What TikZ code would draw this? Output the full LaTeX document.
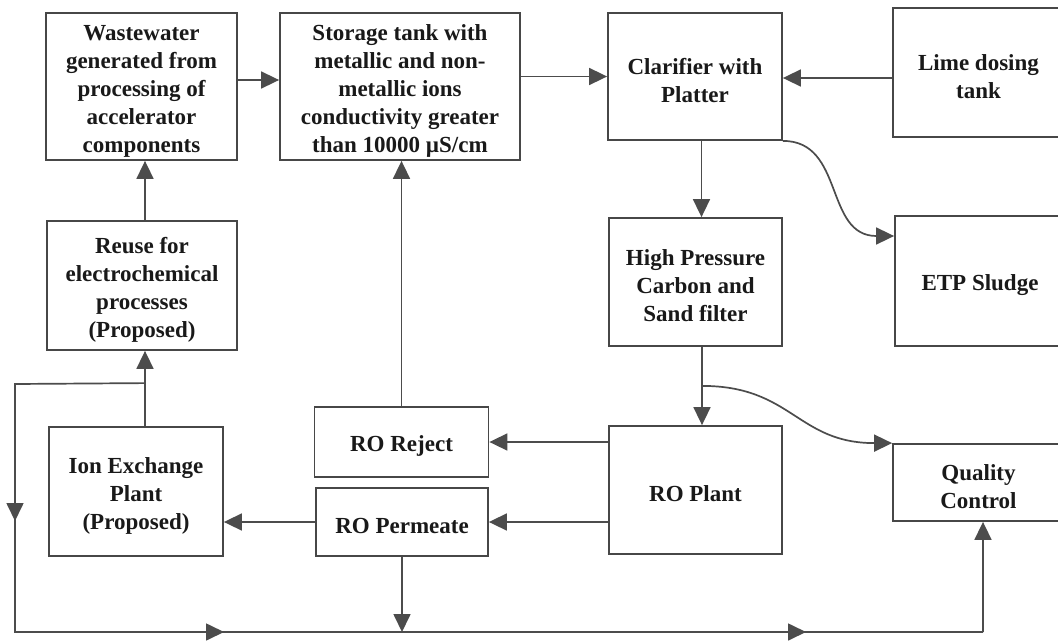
\documentclass[tikz,border=0pt]{standalone}
\usepackage{fontspec}
\setmainfont{Liberation Serif}
\usetikzlibrary{arrows.meta}
\newcommand{\lowr}{\rule{0pt}{24pt}}
\tikzset{
  box/.style={draw=black!72, line width=1.8pt, fill=white, align=center, inner sep=2pt,
    font=\fontsize{23}{28}\selectfont\bfseries, text=black!90},
  conn/.style={draw=black!70, line width=1.7pt},
  arr/.style={conn, -{Triangle[length=18pt,width=17pt]}},
}
\begin{document}
\begin{tikzpicture}[x=1pt,y=-1pt]
\useasboundingbox (0,0) rectangle (1058,643);
\clip (0,0) rectangle (1058,643);
\fill[white] (0,0) rectangle (1058,643);
% nodes
\node[box, minimum width=191, minimum height=147] (ww) at (141.5,86.5)
  {\lowr Wastewater\\generated from\\processing of\\accelerator\\components};
\node[box, minimum width=240, minimum height=147] (st) at (400,86.5)
  {\lowr Storage tank with\\metallic and non-\\metallic ions\\conductivity greater\\than 10000 µS/cm};
\node[box, minimum width=174, minimum height=127] (clar) at (695,76.5)
  {\lowr Clarifier with\\Platter};
\node[box, minimum width=171, minimum height=129] (lime) at (978.5,72.5)
  {\lowr Lime dosing\\tank};
\node[box, minimum width=173, minimum height=128] (hp) at (695.5,282)
  {\lowr High Pressure\\Carbon and\\Sand filter};
\node[box, minimum width=170, minimum height=130] (etp) at (980,281)
  {\lowr ETP Sludge};
\node[box, minimum width=190, minimum height=129] (reuse) at (142,285.5)
  {\lowr Reuse for\\electrochemical\\processes\\(Proposed)};
\node[box, minimum width=174, minimum height=129] (ion) at (136,491.5)
  {\lowr Ion Exchange\\Plant\\(Proposed)};
\node[box, minimum width=174, minimum height=70] (reject) at (401.5,442)
  {\lowr RO Reject};
\node[box, minimum width=172, minimum height=68] (perm) at (402,522)
  {\lowr RO Permeate};
\node[box, minimum width=173, minimum height=128] (ro) at (695.5,490)
  {\lowr RO Plant};
\node[box, minimum width=171, minimum height=77] (qc) at (978.5,482.5)
  {\lowr Quality\\Control};
% helper coordinates
\coordinate (wwo) at ([yshift=6.5pt]ww.east);
\coordinate (lm) at ([yshift=-5.5pt]lime.west);
\coordinate (cs) at ([xshift=6.5pt]clar.south);
\coordinate (hs) at ([xshift=6.5pt]hp.south);
\coordinate (bj) at ([xshift=6.5pt,yshift=-39pt]hp.south);
\coordinate (etpin) at ([yshift=45pt]etp.west);
\coordinate (ix) at ([xshift=9pt]ion.north);
\coordinate (j) at ([yshift=43pt]ix);
\coordinate (rn) at ([xshift=3pt]reuse.north);
\coordinate (lt) at (15,384);
\coordinate (ma) at (15,521);
\coordinate (lb) at (15,632);
\coordinate (mb) at (224,632);
\coordinate (mc) at (806,632);
\coordinate (rb) at (983,632);
% connectors
\draw[arr] (wwo) -- (wwo -| st.west);
\draw[arr] (st.east |- clar.west) -- (clar.west);
\draw[arr] (lm) -- (lm -| clar.east);
\draw[arr] (cs) -- (cs |- hp.north);
\draw[arr] (clar.south east) .. controls +(62,0) and +(-70,0) .. (etpin);
\draw[arr] (hs) -- (hs |- ro.north);
\draw[arr] (bj) .. controls +(90,0) and +(-95,0) .. (qc.north west);
\draw[arr] (ro.west |- reject.east) -- (reject.east);
\draw[arr] (ro.west |- perm.east) -- (perm.east);
\draw[arr] (perm.west) -- (perm.west -| ion.east);
\draw[arr] (reject.north) -- (reject.north |- st.south);
\draw[arr] (perm.south) -- (perm.south |- lb);
\draw[arr] (ix) -- (ix |- reuse.south);
\draw[arr] (rn) -- (rn |- ww.south);
\draw[conn] (j) -- (lt) -- (lb) -- (rb);
\draw[arr] (rb) -- (rb |- qc.south);
\draw[arr] (lt) -- (ma);
\draw[arr] (lb) -- (mb);
\draw[arr] (mb) -- (mc);
\end{tikzpicture}
\end{document}
